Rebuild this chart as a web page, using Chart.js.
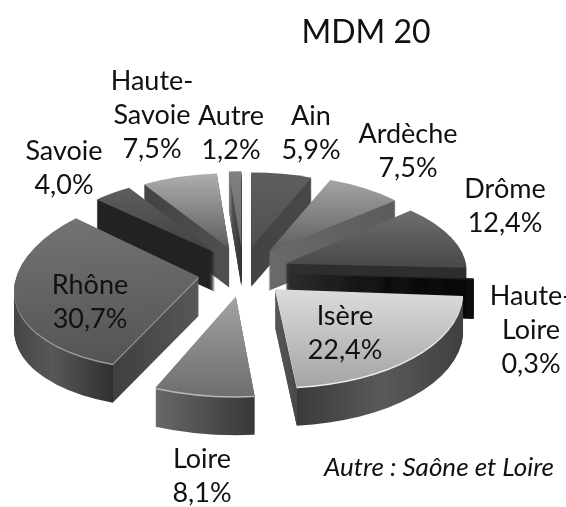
<!DOCTYPE html>
<html lang="fr">
<head>
  <meta charset="UTF-8">
  <title>MDM 20</title>
  <script src="https://cdn.jsdelivr.net/npm/chart.js"></script>
  <style>
    html, body { margin: 0; padding: 0; background: #fff; }
    #wrap { width: 566px; height: 507px; }
  </style>
</head>
<body>
<div id="wrap"><canvas id="pie" width="566" height="507"></canvas></div>

<script>
const titleText = "MDM 20";
const noteText = "Autre : Saône et Loire";
const regions = ["Ain", "Ardèche", "Drôme", "Haute-Loire", "Isère", "Loire", "Rhône", "Savoie", "Haute-Savoie", "Autre"];
const shares = [5.9, 7.5, 12.4, 0.3, 22.4, 8.1, 30.7, 4.0, 7.5, 1.2];

// label text lines and where they sit (centre x, first baseline)
const labelLines = [["Ain"], ["Ardèche"], ["Drôme"], ["Haute-", "Loire"], ["Isère"], ["Loire"], ["Rhône"], ["Savoie"], ["Haute-", "Savoie"], ["Autre"]];
const labelX = [311, 408, 505, 531, 345, 202, 90, 64, 152, 231];
const labelY = [125, 143, 198, 305, 325, 468, 294, 160, 90, 125];
const lineGap = 34;

// look of each slice
const faceColors = [["#5e5e5e", "#505050"], ["#a4a4a4", "#5e5e5e"], ["#6e6e6e", "#484848"], ["#2a2a2a", "#1a1a1a"], ["#dcdcdc", "#a4a4a4"],
  ["#a2a2a2", "#6e6e6e"], ["#737373", "#545454"], ["#5e5e5e", "#404040"], ["#aeaeae", "#5c5c5c"], ["#808080", "#6a6a6a"]];
const wallStops = [
  [[0, "#444"], [1, "#484848"]],
  [[0, "#6a6a6a"], [1, "#5c5c5c"]],
  [[0, "#2e2e2e"], [1, "#2e2e2e"]],
  [[0, "#090909"], [1, "#090909"]],
  [[0, "#585858"], [0.094, "#4a4a4a"], [0.095, "#3a3a3a"], [0.55, "#5a5a5a"], [1, "#404040"]],
  [[0, "#686868"], [1, "#383838"]],
  [[0, "#454545"], [0.25, "#585858"], [0.597, "#303030"], [0.598, "#404040"], [1, "#585858"]],
  [[0, "#232323"], [1, "#232323"]],
  [[0, "#444"], [1, "#505050"]],
  [[0, "#8a8a8a"], [0.3, "#505050"], [1, "#333"]]
];
const rimLight = [null, null, null, null, "#efefef", "#b8b8b8", "#999", null, null, null];
const scaleXs = [0.875, 0.895, 0.95, 0.98, 0.99, 1.05, 0.97, 0.87, 0.865, 0.875];
const scaleYs = [0.395, 0.405, 0.42, 0.5, 0.515, 0.525, 0.482, 0.4, 0.395, 0.4];
const skewXs = [0, 0, 0.074, 0, 0.02, 0, -0.068, 0, 0, 0];
const skewYs = [0, 0, 0, 0, 0, 0, -0.041, 0, 0, 0];
const paintOrder = [9, 0, 8, 1, 7, 2, 3, 6, 4, 5];
const squash = 0.55;
const wallDepth = 39;

function sliceBox(arc) {
  const r = arc.outerRadius;
  const xs = [0, r * Math.cos(arc.startAngle), r * Math.cos(arc.endAngle)];
  const ys = [0, r * Math.sin(arc.startAngle), r * Math.sin(arc.endAngle)];
  for (let a = -Math.PI; a <= 2 * Math.PI; a += Math.PI / 2) {
    if (a > arc.startAngle && a < arc.endAngle) {
      xs.push(r * Math.cos(a));
      ys.push(r * Math.sin(a));
    }
  }
  return { x0: Math.min(...xs), x1: Math.max(...xs), y0: Math.min(...ys), y1: Math.max(...ys) };
}

// one wedge, pulled out by the dataset offset, flattened, dropped by drop px
function paintSlice(ctx, arc, fill, drop, i) {
  const off = arc.options.offset / 4;
  const mid = (arc.startAngle + arc.endAngle) / 2;
  ctx.save();
  ctx.translate(arc.x + off * Math.cos(mid), arc.y + squash * off * Math.sin(mid) + drop);
  ctx.transform(scaleXs[i], skewYs[i], skewXs[i], scaleYs[i], 0, 0);
  ctx.fillStyle = fill;
  ctx.beginPath();
  ctx.moveTo(0, 0);
  ctx.arc(0, 0, arc.outerRadius, arc.startAngle, arc.endAngle);
  ctx.closePath();
  ctx.fill();
  ctx.restore();
}

const pie3d = {
  id: "pie3d",
  beforeDatasetsDraw(chart) {
    const ctx = chart.ctx;
    const arcs = chart.getDatasetMeta(0).data;
    ctx.save();
    ctx.filter = "blur(0.5px)";
    paintOrder.forEach(i => {
      const arc = arcs[i];
      const box = sliceBox(arc);
      const wall = ctx.createLinearGradient(box.x0, 0, box.x1, 0);
      wallStops[i].forEach(s => wall.addColorStop(s[0], s[1]));
      for (let d = wallDepth; d >= 1; d--) paintSlice(ctx, arc, wall, d, i);
      if (rimLight[i]) paintSlice(ctx, arc, rimLight[i], 1.5, i);
      const face = ctx.createLinearGradient(0, box.y0, 0, box.y1);
      face.addColorStop(0, faceColors[i][0]);
      face.addColorStop(1, faceColors[i][1]);
      paintSlice(ctx, arc, face, 0, i);
    });
    ctx.restore();
    return false;
  },
  afterDraw(chart) {
    const ctx = chart.ctx;
    ctx.save();
    ctx.fillStyle = "#111";
    ctx.textAlign = "center";
    ctx.font = "32px Lato";
    ctx.fillText(titleText, 366, 43);
    ctx.font = "27px Lato";
    shares.forEach((v, i) => {
      const lines = labelLines[i].concat(v.toFixed(1).replace(".", ",") + "%");
      lines.forEach((t, n) => ctx.fillText(t, labelX[i], labelY[i] + n * lineGap));
    });
    ctx.font = "italic 26px Lato";
    ctx.fillText(noteText, 439, 476);
    ctx.restore();
  }
};

new Chart(document.getElementById("pie"), {
  type: "pie",
  data: {
    labels: regions,
    datasets: [{ data: shares, offset: 180, borderWidth: 0, backgroundColor: "#777" }]
  },
  options: {
    responsive: false,
    animation: false,
    radius: 190,
    layout: { padding: { left: 0, right: 80, top: 37, bottom: 0 } },
    plugins: { legend: { display: false }, tooltip: { enabled: false } }
  },
  plugins: [pie3d]
});
</script>
</body>
</html>
